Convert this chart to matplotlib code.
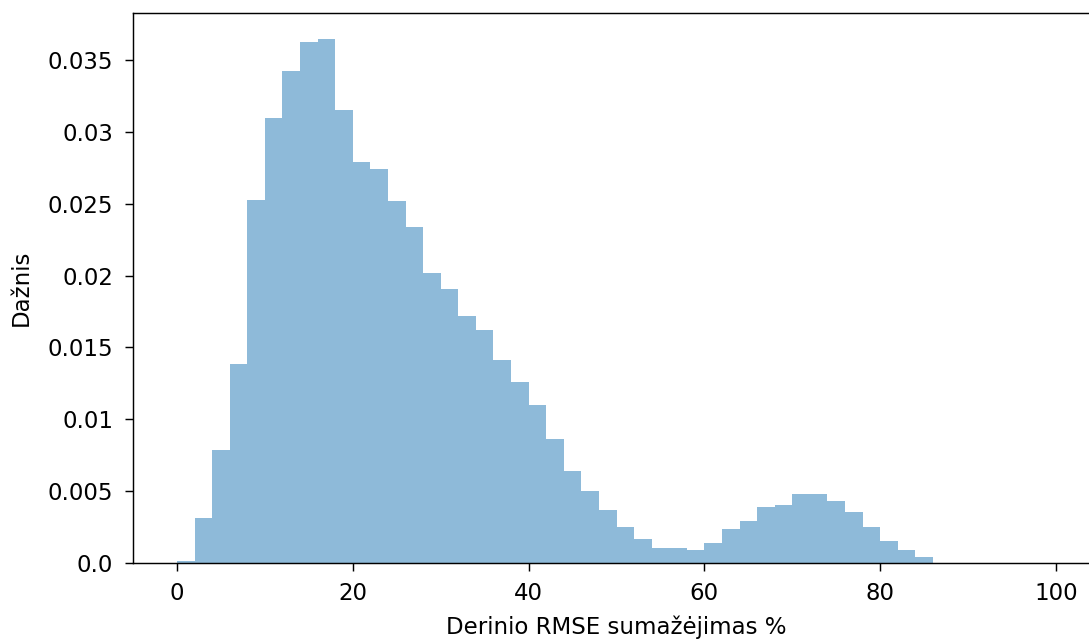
import numpy as np
import matplotlib
matplotlib.use("Agg")
import matplotlib.pyplot as plt

# histogram bin edges (width 2, 0..100) and density per bin
bin_edges = np.arange(0, 102, 2)
density = [0.00014, 0.00313, 0.00786, 0.01385, 0.02526, 0.03099, 0.03424, 0.03621, 0.03644, 0.0315,
           0.02788, 0.0274, 0.02517, 0.0234, 0.02016, 0.01905, 0.01719, 0.01619, 0.01411, 0.01258,
           0.01097, 0.00861, 0.00639, 0.00502, 0.00367, 0.00253, 0.00166, 0.00103, 0.00103, 0.00092,
           0.00139, 0.00239, 0.00292, 0.00388, 0.00402, 0.00478, 0.00478, 0.00429, 0.00353, 0.00253,
           0.00153, 0.00093, 0.00042, 0, 0, 0, 0, 0, 0, 0]

DPI = 130
plt.rcParams['font.size'] = 12.7
fig = plt.figure(figsize=(1089 / DPI, 639 / DPI), dpi=DPI)
# axes run past the right edge, like the cropped original
ax = fig.add_axes([133 / 1089, 1 - 563 / 639, (1100 - 133) / 1089, (563 - 13) / 639])

ax.hist(bin_edges[:-1], bins=bin_edges, weights=density, histtype='stepfilled', alpha=0.5)

ax.set_xlabel('Derinio RMSE sumažėjimas %', labelpad=6)
ax.set_ylabel('Dažnis', labelpad=8)
ax.set_yticks([0, 0.005, 0.01, 0.015, 0.02, 0.025, 0.03, 0.035])
ax.set_yticklabels(['0.0', '0.005', '0.01', '0.015', '0.02', '0.025', '0.03', '0.035'])
ax.tick_params(length=4.5, pad=6)
ax.tick_params(axis='y', pad=6.5)

fig.savefig('out.png', dpi=DPI)
